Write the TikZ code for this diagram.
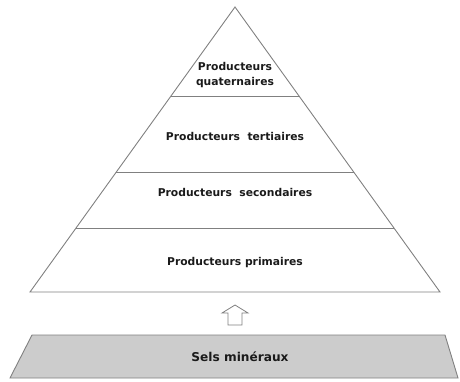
\documentclass[tikz,border=0pt]{standalone}
\usepackage{fontspec}
\setsansfont{DejaVu Sans}
\usepackage{xcolor}
\usetikzlibrary{calc}
\definecolor{edgegray}{HTML}{808080}
\definecolor{saltgray}{HTML}{CCCCCC}
\definecolor{inkgray}{HTML}{1A1A1A}

\begin{document}
\begin{tikzpicture}[
    x=1bp, y=-1bp,
    level/.style={draw=edgegray, line width=0.9bp},
    label/.style={align=center, text=inkgray, inner sep=0pt, font=\sffamily\bfseries\fontsize{10.8}{14.5}\selectfont},
    salt/.style={draw=edgegray, fill=saltgray, line width=0.9bp},
    hollow/.style={draw=edgegray, fill=white, line width=0.8bp, line join=miter}
]
\useasboundingbox (0,0) rectangle (460,381);

% Pyramid corners
\coordinate (apex) at (235,7);
\coordinate (baseL) at (30,292);
\coordinate (baseR) at (440,292);

% Pyramid outline and levels
\draw [level] (apex) -- (baseR) -- (baseL) -- cycle;
\draw [level] (171,96) -- (299,96);
\draw [level] (116.3,172) -- (353.7,172);
\draw [level] (76,228) -- (394,228);

% Level labels
\node (quaternary) [label] at (235,75) {Producteurs\\quaternaires};
\node (tertiary) [label] at (235,136) {Producteurs\ \ tertiaires};
\node (secondary) [label] at (235,192) {Producteurs\ \ secondaires};
\node (primary) [label] at (235,263) {Producteurs primaires};

% Mineral salts base
\draw [salt] (32,335) -- (445,335) -- (458,378) -- (10,378) -- cycle;
\node (salts) [label, font=\sffamily\bfseries\fontsize{12.2}{14}\selectfont] at (240,357) {Sels minéraux};

% Hollow arrow up
\coordinate (arrowtip) at (235,305);
\draw [hollow] (arrowtip) -- ++(13,8) -- ++(-6,0) -- ++(0,12) -- ++(-14,0) -- ++(0,-12) -- ++(-6,0) -- cycle;

\end{tikzpicture}
\end{document}
